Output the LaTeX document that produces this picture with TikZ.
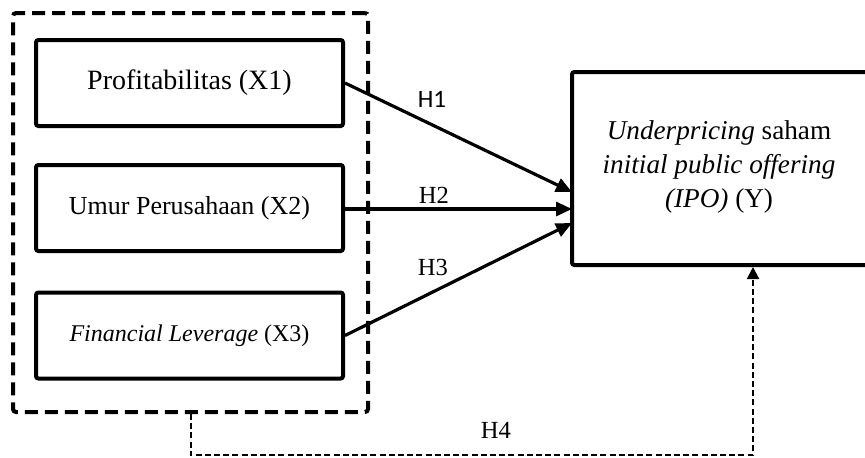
\documentclass[tikz,border=0pt]{standalone}
\usepackage{fontspec}
\setmainfont{Liberation Serif}
\newfontfamily\calfont{Carlito}
\usetikzlibrary{arrows.meta}
\begin{document}
\begin{tikzpicture}[x=0.5pt,y=-0.5pt,
  varbox/.style={draw, line width=2pt, rounded corners=1.2pt, minimum width=153.5pt, minimum height=43pt, inner sep=0pt},
  grpbox/.style={draw, line width=2pt, dash pattern=on 6.5pt off 3.5pt, rounded corners=1.5pt, minimum width=177.5pt, minimum height=199.5pt, inner sep=0pt},
  ybox/.style={draw, line width=2pt, rounded corners=1.2pt, minimum width=154pt, minimum height=96.5pt, inner sep=0pt},
  harrow/.style={line width=1.6pt, -{Triangle[length=8pt,width=7pt]}},
  dasharrow/.style={line width=1pt, dash pattern=on 3pt off 1.6pt, -{Triangle[length=6pt,width=6pt]}},
  lbl/.style={inner sep=0pt, font=\fontsize{12.3}{14}\selectfont}
]
\useasboundingbox (0,0) rectangle (865,457);
\node[grpbox] (grp) at (190.5,212.5) {};
\node[varbox, font=\fontsize{14}{16}\selectfont] (x1) at (189.5,83) {Profitabilitas (X1)};
\node[varbox, font=\fontsize{13}{15}\selectfont] (x2) at (189.5,208) {Umur Perusahaan (X2)};
\node[varbox, font=\fontsize{12}{14}\selectfont] (x3) at (189.5,335.5) {\textit{Financial Leverage} (X3)};
\node[ybox] (y) at (726,168.5) {};
\node[align=center, inner sep=0pt, font=\fontsize{13.6}{17}\selectfont] (ytxt) at (719,167) {\textit{Underpricing} saham\\\textit{initial public offering}\\\textit{(IPO)} (Y)};
\coordinate (t1) at (572,192);
\coordinate (t2) at (572,209);
\coordinate (t3) at (572,223);
\draw[harrow] (x1.east) -- (t1);
\draw[harrow] (x2.east |- t2) -- (t2);
\draw[harrow] (x3.east) -- (t3);
\node[lbl, font=\calfont\fontsize{12.5}{14}\selectfont] (h1) at (432,99) {H1};
\node[lbl] (h2) at (434,195) {H2};
\node[lbl] (h3) at (433,267) {H3};
\node[lbl] (h4) at (496,430) {H4};
\coordinate (c4) at (753,455);
\draw[dasharrow] (grp.south) |- (c4) -- (c4 |- y.south);
\end{tikzpicture}
\end{document}
